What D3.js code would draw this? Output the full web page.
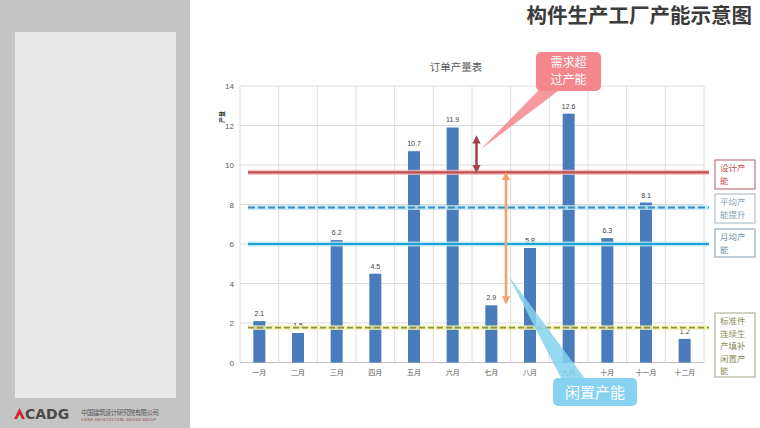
<!DOCTYPE html>
<html><head><meta charset="utf-8">
<script src="https://cdn.jsdelivr.net/npm/d3@7"></script>
<style>
html,body{margin:0;padding:0;background:#fff;}
svg{display:block;font-family:"Noto Sans CJK SC","Noto Sans",sans-serif;}
</style></head>
<body>
<svg id="c" width="760" height="428"></svg>
<script>
const months = ["一月","二月","三月","四月","五月","六月","七月","八月","九月","十月","十一月","十二月"];
const values = [2.1,1.5,6.2,4.5,10.7,11.9,2.9,5.8,12.6,6.3,8.1,1.2];
const yTicks = [0,2,4,6,8,10,12,14];
const refNames = ["设计产能","平均产能提升","月均产能","标准件连续生产填补闲置产能"];
const refValues = [9.63,7.85,6.0,1.77];
const refLabelLines = [["设计产","能"],["平均产","能提升"],["月均产","能"],["标准件","连续生","产填补","闲置产","能"]];
const chartTitle = "订单产量表";
const pageTitle = "构件生产工厂产能示意图";
const yTitle = "产量";
const calloutOver = ["需求超","过产能"];
const calloutIdle = "闲置产能";

const svg = d3.select("#c");
const x = d3.scaleBand().domain(months).range([240,704]);
const y = d3.scaleLinear().domain([0,14]).range([362.6,86]);

// left panel
svg.append("rect").attr("x",0).attr("y",0).attr("width",190).attr("height",428).attr("fill","#c4c4c4");
svg.append("rect").attr("x",15).attr("y",32).attr("width",161).attr("height",366).attr("fill","#e9e9e9");
// logo
svg.append("path").attr("d","M14,419 L19.5,408 L25,419 L22,419 L19.5,414 L17,419 Z").attr("fill","#d2232a");
svg.append("text").attr("x",25).attr("y",419).attr("font-size",14).attr("font-weight",700)
  .attr("fill","#4a4a4a").attr("font-family","DejaVu Sans, sans-serif").text("CADG");
svg.append("text").attr("x",81).attr("y",414.5).attr("font-size",6.5).attr("fill","#555").attr("textLength",78).text("中国建筑设计研究院有限公司");
svg.append("text").attr("x",81).attr("y",421).attr("font-size",3.5).attr("fill","#8a3a3a").attr("textLength",75).text("CHINA ARCHITECTURE DESIGN GROUP");

// page title
svg.append("text").attr("x",752).attr("y",23).attr("text-anchor","end").attr("font-size",20.5)
  .attr("font-weight",700).attr("fill","#3c3c3c").text(pageTitle);

// grid
const g = svg.append("g");
g.selectAll(".hg").data(yTicks).join("line")
  .attr("x1",240).attr("x2",704).attr("y1",d=>y(d)).attr("y2",d=>y(d))
  .attr("stroke",d=>d===0?"#bfbfbf":"#dcdcdc").attr("stroke-width",1);
const bounds = months.map(m=>x(m)).concat([704]);
g.selectAll(".vg").data(bounds).join("line")
  .attr("x1",d=>d).attr("x2",d=>d).attr("y1",y(14)).attr("y2",y(0))
  .attr("stroke","#dcdcdc").attr("stroke-width",1);

// y tick labels
g.selectAll(".yt").data(yTicks).join("text")
  .attr("x",234).attr("y",d=>y(d)+3).attr("text-anchor","end").attr("font-size",8)
  .attr("fill","#595959").attr("font-family","Liberation Sans, Arial, sans-serif").text(d=>d);
// x labels
g.selectAll(".xt").data(months).join("text")
  .attr("x",d=>x(d)+x.bandwidth()/2).attr("y",375).attr("text-anchor","middle").attr("font-size",7)
  .attr("fill","#595959").text(d=>d);
// y title
svg.append("text").attr("transform","translate(224,117) rotate(-90)").attr("text-anchor","middle")
  .attr("font-size",6).attr("font-weight",700).attr("fill","#333").text(yTitle);
// chart title
svg.append("text").attr("x",456).attr("y",71).attr("text-anchor","middle").attr("font-size",10.5)
  .attr("fill","#595959").text(chartTitle);

// bars
const bw = 12;
g.selectAll(".bar").data(values).join("rect")
  .attr("x",(d,i)=>x(months[i])+x.bandwidth()/2-bw/2).attr("width",bw)
  .attr("y",d=>y(d)).attr("height",d=>y(0)-y(d)).attr("fill","#4a7bba");
g.selectAll(".bl").data(values).join("text")
  .attr("x",(d,i)=>x(months[i])+x.bandwidth()/2).attr("y",d=>y(d)-5).attr("text-anchor","middle")
  .attr("font-size",7).attr("fill","#404040").attr("font-family","Liberation Sans, Arial, sans-serif")
  .text(d=>d.toFixed(1));

// reference lines
const refStyles = [
  {c:"#c0504d",glow:"#f2b8b8",dash:null,w:2.2},
  {c:"#3b8fc2",glow:"#bfe6f4",dash:"7,3",w:2},
  {c:"#1ea3d6",glow:"#b5e3f3",dash:null,w:2},
  {c:"#8c9440",glow:"#f0f0a8",dash:"6,3",w:1.6}
];
refValues.forEach((v,i)=>{
  const s = refStyles[i];
  svg.append("line").attr("x1",248).attr("x2",709).attr("y1",y(v)).attr("y2",y(v))
    .attr("stroke",s.glow).attr("stroke-width",s.w+3).attr("opacity",0.8);
  const l = svg.append("line").attr("x1",248).attr("x2",709).attr("y1",y(v)).attr("y2",y(v))
    .attr("stroke",s.c).attr("stroke-width",s.w);
  if(s.dash) l.attr("stroke-dasharray",s.dash);
});

// right labels
const boxes = [
  {y0:160,y1:189,stroke:"#b05a5e",fill:"#c0504d"},
  {y0:194,y1:223,stroke:"#9fb4c0",fill:"#8aa2b2"},
  {y0:229,y1:257,stroke:"#7e9cb0",fill:"#6e93ad"},
  {y0:313,y1:377,stroke:"#a5a585",fill:"#8b8b5c"}
];
boxes.forEach((b,i)=>{
  svg.append("rect").attr("x",715).attr("y",b.y0).attr("width",40).attr("height",b.y1-b.y0)
    .attr("fill","#fff").attr("stroke",b.stroke).attr("stroke-width",1);
  refLabelLines[i].forEach((t,j)=>{
    svg.append("text").attr("x",720).attr("y",b.y0+11+j*12.5).attr("font-size",8.5)
      .attr("fill",b.fill).text(t);
  });
});

// arrows
const defs = svg.append("defs");
function marker(id,color){
  defs.append("marker").attr("id",id).attr("viewBox","0 0 10 10").attr("refX",5).attr("refY",5)
    .attr("markerWidth",3.2).attr("markerHeight",3.2).attr("orient","auto-start-reverse")
    .append("path").attr("d","M0,0 L10,5 L0,10 Z").attr("fill",color);
}
marker("ar","#a8424c"); marker("ao","#f0a46a");
const xr = x("七月")+4.5, xo = x("七月")+34;
svg.append("line").attr("x1",xr).attr("x2",xr).attr("y1",y(11.3)).attr("y2",y(9.8))
  .attr("stroke","#a8424c").attr("stroke-width",2.6)
  .attr("marker-start","url(#ar)").attr("marker-end","url(#ar)");
svg.append("line").attr("x1",xo).attr("x2",xo).attr("y1",y(9.45)).attr("y2",y(3.15))
  .attr("stroke","#f0a46a").attr("stroke-width",2.6)
  .attr("marker-start","url(#ao)").attr("marker-end","url(#ao)");

// red callout
svg.append("path").attr("d","M541,88 L562,88 L480,150 Z").attr("fill","#f4868c").attr("opacity",0.85);
svg.append("rect").attr("x",536).attr("y",52).attr("width",65).attr("height",39).attr("rx",5)
  .attr("fill","#f4868c");
calloutOver.forEach((t,j)=>{
  svg.append("text").attr("x",568.5).attr("y",67+j*17).attr("text-anchor","middle")
    .attr("font-size",12).attr("fill","#fff").text(t);
});

// blue callout
svg.append("path").attr("d","M508,275 L562,380 L586,380 Z").attr("fill","#86d2f0").attr("opacity",0.85);
svg.append("rect").attr("x",553).attr("y",378).attr("width",84).attr("height",28).attr("rx",5)
  .attr("fill","#86d2f0");
svg.append("text").attr("x",595).attr("y",398).attr("text-anchor","middle").attr("font-size",15)
  .attr("fill","#fff").text(calloutIdle);
</script>
</body></html>
